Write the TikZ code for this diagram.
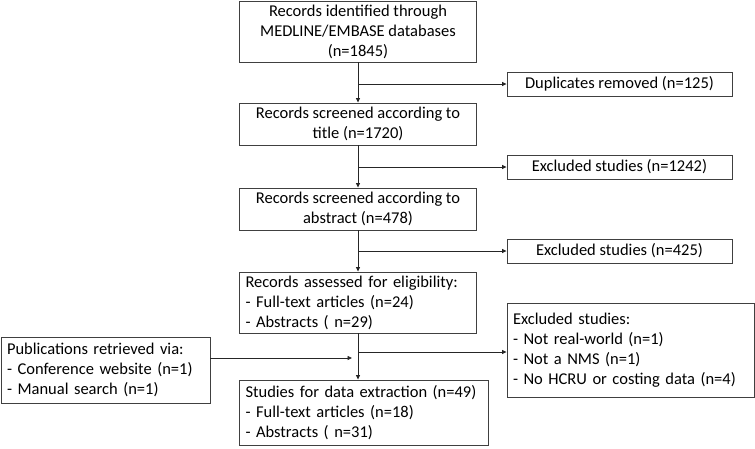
\documentclass[tikz,border=0pt]{standalone}
\usepackage{fontspec}
\setmainfont{Carlito}
\usetikzlibrary{arrows.meta}
\begin{document}
\begin{tikzpicture}[x=1pt,y=-1pt,
  box/.style={draw=black!75, line width=0.9pt, rectangle, inner ysep=0pt, inner xsep=2pt, font=\fontsize{16.5}{20}\selectfont},
  lbox/.style={box, inner xsep=6pt, align=left},
  conn/.style={draw=black!85, line width=0.8pt},
  arr/.style={conn, -{Triangle[length=4.5pt,width=4pt]}}]
\useasboundingbox (0,0) rectangle (755,448);
\node[box, minimum width=237pt, minimum height=61pt, align=center] (b1) at (358,31.5) {Records identified through\\MEDLINE/EMBASE databases\\(n=1845)};
\node[box, minimum width=237pt, minimum height=42pt, align=center] (b2) at (358,124) {Records screened according to\\title (n=1720)};
\node[box, minimum width=237pt, minimum height=42pt, align=center] (b3) at (358,209) {Records screened according to\\abstract (n=478)};
\node[lbox, minimum width=237pt, minimum height=61pt, text width=225pt] (b4) at (358,302.5) {Records assessed for eligibility:\\- Full-text articles (n=24)\\- Abstracts ( n=29)};
\node[lbox, minimum width=249pt, minimum height=65pt, text width=237pt] (b5) at (364,412.5) {Studies for data extraction (n=49)\\- Full-text articles (n=18)\\- Abstracts ( n=31)};
\node[box, minimum width=225pt, minimum height=24pt, align=center] (d1) at (619.5,84) {Duplicates removed (n=125)};
\node[box, minimum width=225pt, minimum height=24pt, align=center] (d2) at (619.5,167) {Excluded studies (n=1242)};
\node[box, minimum width=225pt, minimum height=24pt, align=center] (d3) at (619.5,251) {Excluded studies (n=425)};
\node[lbox, minimum width=247pt, minimum height=94pt, text width=235pt] (e4) at (630.5,350) {Excluded studies:\\- Not real-world (n=1)\\- Not a NMS (n=1)\\- No HCRU or costing data (n=4)};
\node[lbox, minimum width=209pt, minimum height=66pt, text width=197pt] (p) at (105.5,370) {Publications retrieved via:\\- Conference website (n=1)\\- Manual search (n=1)};
\coordinate (j1) at (358,84);
\coordinate (j2) at (358,167);
\coordinate (j3) at (358,251);
\coordinate (j4) at (358,352);
\coordinate (pj) at (352,358);
\draw[arr] (b1.south) -- (b2.north);
\draw[arr] (b2.south) -- (b3.north);
\draw[arr] (b3.south) -- (b4.north);
\draw[arr] (b4.south) -- (b4.south |- b5.north);
\draw[arr] (j1) -- (d1.west);
\draw[arr] (j2) -- (d2.west);
\draw[arr] (j3) -- (d3.west);
\draw[arr] (j4) -- (e4.west |- j4);
\draw[arr] (p.east |- pj) -- (pj);
\end{tikzpicture}
\end{document}
